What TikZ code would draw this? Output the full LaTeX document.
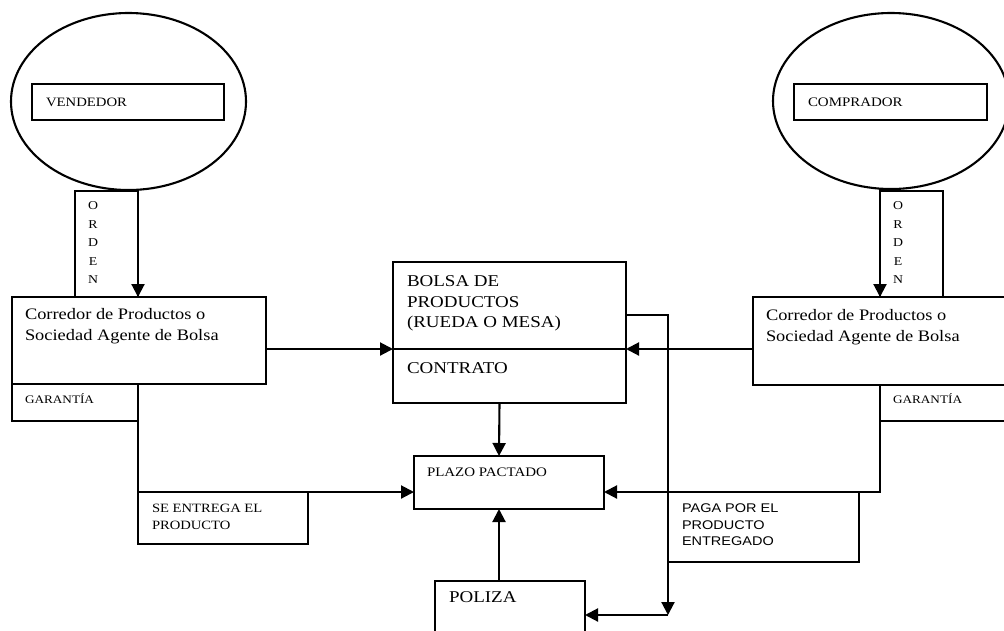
\documentclass[tikz,border=0pt]{standalone}
\usepackage{fontspec}
\setmainfont{Liberation Serif}
\newfontfamily\arialf{Liberation Sans}
\usepackage{graphicx}
\usetikzlibrary{arrows.meta,shapes.geometric,calc}
\newcommand{\sx}[1]{\scalebox{1.15}[1]{#1}}
\newcommand{\fs}[1]{\fontsize{#1}{#1}\selectfont}
\begin{document}
\begin{tikzpicture}[x=1pt,y=-1pt,
  ln/.style={line width=2.1pt},
  box/.style={draw,ln,rectangle,inner sep=0pt,outer sep=0pt,anchor=north west},
  oval/.style={draw,ln,ellipse,inner sep=0pt,outer sep=0pt},
  txt/.style={inner sep=0pt,outer sep=0pt,anchor=west,align=left},
  arr/.style={ln,-{Triangle[length=13pt,width=13pt]}}
]
\clip (0,0) rectangle (1004,630);
\fill[white] (0,0) rectangle (1004,630);

% ellipses
\node[oval,minimum width=235pt,minimum height=177pt] (ellL) at (128.5,101.5) {};
\node[oval,minimum width=236pt,minimum height=176pt] (ellR) at (891,101) {};
\node[box,minimum width=192pt,minimum height=36pt] (vend) at (32,84) {};
\node[box,minimum width=193pt,minimum height=36pt] (comp) at (794,84) {};
\node[txt,font=\fs{12.8}] (vendT) at (46,102) {\sx{VENDEDOR}};
\node[txt,font=\fs{13}] (compT) at (808,102) {\sx{COMPRADOR}};

% ORDEN boxes
\node[box,minimum width=63pt,minimum height=106pt] (ordL) at (75,191) {};
\node[box,minimum width=63pt,minimum height=106pt] (ordR) at (880,191) {};
\foreach \l [count=\i from 0] in {O,R,D,E,N}{
  \node[inner sep=0pt,font=\fs{12}] (oL\i) at (93,205.5+18.6*\i) {\sx{\l}};
  \node[inner sep=0pt,font=\fs{12}] (oR\i) at (898,205.5+18.6*\i) {\sx{\l}};
}

% corredores
\node[box,minimum width=254pt,minimum height=87pt] (corrL) at (12,297) {};
\node[box,minimum width=260pt,minimum height=88pt] (corrR) at (753,297) {};
\node[txt,font=\fs{16}] (corrLT) at (25,326.5) {\sx{Corredor de Productos o}\\[5pt]\sx{Sociedad Agente de Bolsa}};
\node[txt,font=\fs{16}] (corrRT) at (766,327) {\sx{Corredor de Productos o}\\[5pt]\sx{Sociedad Agente de Bolsa}};

% garantia
\node[box,minimum width=126pt,minimum height=37pt] (garL) at (12,384) {};
\node[box,minimum width=130pt,minimum height=36pt] (garR) at (880,385) {};
\node[txt,font=\fs{11.5}] (garLT) at (25,399) {\sx{GARANTÍA}};
\node[txt,font=\fs{11.5}] (garRT) at (893,399) {\sx{GARANTÍA}};

% bolsa
\node[box,minimum width=233pt,minimum height=141pt] (bolsa) at (393,262) {};
\coordinate (divL) at (393,349);
\coordinate (divR) at (626,349);
\draw[ln] (divL) -- (divR);
\node[txt,font=\fs{16.5}] (bolsaT1) at (407,281) {\sx{BOLSA DE}};
\node[txt,font=\fs{16.5}] (bolsaT2) at (407,302.5) {\sx{PRODUCTOS}};
\node[txt,font=\fs{16.5}] (bolsaT3) at (407,324) {\sx{(RUEDA O MESA)}};
\node[txt,font=\fs{16.5}] (contT) at (407,368) {\sx{CONTRATO}};

% plazo
\node[box,minimum width=190pt,minimum height=53pt] (plazo) at (414,456) {};
\node[txt,font=\fs{13}] (plazoT) at (427,472) {\sx{PLAZO PACTADO}};

% se entrega
\node[box,minimum width=170pt,minimum height=52pt] (seL) at (138,492) {};
\node[txt,font=\fs{12.7}] (seT) at (152,517) {\sx{SE ENTREGA EL}\\[4pt]\sx{PRODUCTO}};

% paga
\node[box,minimum width=191pt,minimum height=70pt] (paga) at (668,492) {};
\node[txt,font=\arialf\fs{12.6}] (pagaT) at (682,525) {\sx{PAGA POR EL}\\[4pt]\sx{PRODUCTO}\\[4pt]\sx{ENTREGADO}};

% poliza
\node[box,minimum width=150pt,minimum height=70pt] (poliza) at (435,581) {};
\node[txt,font=\fs{16.5}] (polT) at (449,597) {\sx{POLIZA}};

% connectors
\draw[arr] (ellL.south -| ordL.east) -- (ordL.south east);
\draw[arr] (ellR.south -| ordR.west) -- (ordR.south west);
\draw[arr] (corrL.east |- divL) -- (divL);
\draw[arr] (corrR.west |- divR) -- (divR);
\draw[arr] (garL.south east) -- (seL.north west) -- (seL.north west -| plazo.west);
\draw[arr] (garR.south west) |- (paga.north west -| plazo.east);
\draw[arr] ([xshift=-10pt]bolsa.south) -- ([xshift=-10pt]plazo.north);
\draw[arr] ([xshift=-11pt]poliza.north) -- ([xshift=-10pt]plazo.south);
\coordinate (turn) at (668,615);
\draw[arr] (bolsa.east |- 0,315) -- (turn |- 0,315) -- (turn);
\draw[arr] (turn) -- (turn -| poliza.east);
\end{tikzpicture}
\end{document}
